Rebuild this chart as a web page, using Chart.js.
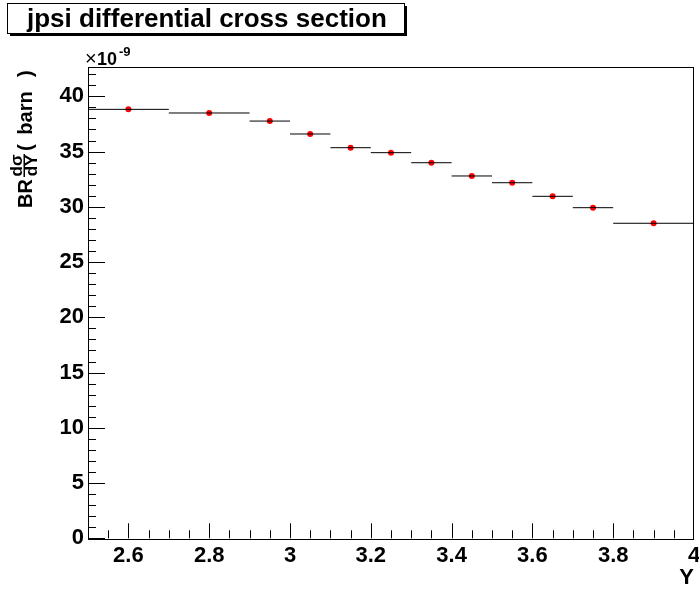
<!DOCTYPE html>
<html>
<head>
<meta charset="utf-8">
<title>jpsi differential cross section</title>
<script src="https://cdn.jsdelivr.net/npm/chart.js@4"></script>
<style>
  body { margin: 0; background: #ffffff; }
  canvas { display: block; }
</style>
</head>
<body>
<canvas id="myChart" width="699" height="594"></canvas>
<script>
// rapidity bins (centre, low edge, high edge) and BR*dsigma/dY in units of 1e-9 barn
const binCenter = [2.6, 2.8, 2.95, 3.05, 3.15, 3.25, 3.35, 3.45, 3.55, 3.65, 3.75, 3.9];
const binLow = [2.5, 2.7, 2.9, 3.0, 3.1, 3.2, 3.3, 3.4, 3.5, 3.6, 3.7, 3.8];
const binHigh = [2.7, 2.9, 3.0, 3.1, 3.2, 3.3, 3.4, 3.5, 3.6, 3.7, 3.8, 4.0];
const xsec = [38.82, 38.49, 37.76, 36.59, 35.35, 34.90, 33.99, 32.79, 32.18, 30.95, 29.92, 28.51];

const xTicks = [2.6, 2.8, 3, 3.2, 3.4, 3.6, 3.8, 4];
const yTicks = [0, 5, 10, 15, 20, 25, 30, 35, 40];

const FONT = "'Liberation Sans', Arial, sans-serif";

// ROOT style frame: box, inward ticks, error bars, titles
const rootFrame = {
  id: 'rootFrame',
  afterDatasetsDraw(chart) {
    const { ctx, chartArea: a, scales } = chart;
    const xs = scales.x, ys = scales.y;
    ctx.save();

    // horizontal bin-width bars
    ctx.strokeStyle = '#000';
    ctx.lineWidth = 1;
    for (let i = 0; i < xsec.length; i++) {
      const py = ys.getPixelForValue(xsec[i]);
      ctx.beginPath();
      ctx.moveTo(xs.getPixelForValue(binLow[i]), py);
      ctx.lineTo(xs.getPixelForValue(binHigh[i]), py);
      ctx.stroke();
    }

    // frame
    ctx.strokeRect(Math.round(a.left) + 0.5, Math.round(a.top) + 0.5,
      Math.round(a.right - a.left) - 1, Math.round(a.bottom - a.top));

    // y ticks
    ctx.beginPath();
    for (let v = 0; v <= 42; v++) {
      const py = Math.round(ys.getPixelForValue(v)) + 0.5;
      const len = v % 5 === 0 ? 17 : 8;
      ctx.moveTo(a.left, py);
      ctx.lineTo(a.left + len, py);
    }
    // x ticks
    for (let k = 1; k < 30; k++) {
      const v = 2.5 + k * 0.05;
      const px = Math.round(xs.getPixelForValue(v)) + 0.5;
      const len = (k - 2) % 4 === 0 ? 15 : 8;
      ctx.moveTo(px, a.bottom);
      ctx.lineTo(px, a.bottom - len);
    }
    ctx.stroke();
    ctx.restore();
  },
  afterDraw(chart) {
    const { ctx, chartArea: a } = chart;
    ctx.save();

    // title box with shadow
    ctx.fillStyle = '#000';
    ctx.fillRect(10, 6, 397, 30);
    ctx.fillStyle = '#fff';
    ctx.fillRect(7.5, 3.5, 397, 30);
    ctx.strokeStyle = '#000';
    ctx.lineWidth = 1;
    ctx.strokeRect(7.5, 3.5, 397, 30);
    ctx.fillStyle = '#000';
    ctx.font = 'bold 26px ' + FONT;
    ctx.textBaseline = 'alphabetic';
    ctx.textAlign = 'left';
    ctx.fillText('jpsi differential cross section', 27, 27);

    // exponent
    ctx.font = '20px ' + FONT;
    ctx.fillText('\u00d7', 85, 65);
    ctx.font = 'bold 18px ' + FONT;
    ctx.fillText('10', 97, 65);
    ctx.font = 'bold 13px ' + FONT;
    ctx.fillText('-9', 119, 56);

    // x title
    ctx.font = 'bold 22px ' + FONT;
    ctx.textAlign = 'right';
    ctx.fillText('Y', a.right, 584);

    // y title, rotated (u runs upward from screen y = 208)
    ctx.translate(32, 208);
    ctx.rotate(-Math.PI / 2);
    ctx.textAlign = 'left';
    ctx.font = 'bold 20px ' + FONT;
    ctx.fillText('BR', 0, 0);
    ctx.font = 'bold 17px ' + FONT;
    const wn = ctx.measureText('d\u03c3').width;
    const wd = ctx.measureText('dY').width;
    const fw = Math.max(wn, wd) + 1;
    const fx = 31;
    ctx.fillText('d\u03c3', fx + (fw - wn) / 2, -10);
    ctx.fillText('dY', fx + (fw - wd) / 2, 5);
    ctx.fillRect(fx, -8.5, fw, 1.5);
    ctx.font = 'bold 20px ' + FONT;
    ctx.fillText('(', 57, 0);
    const wb = ctx.measureText('barn').width;
    ctx.fillText('barn', 95 - wb / 2, 0);
    ctx.fillText(')', 131, 0);
    ctx.restore();
  }
};

const ctx = document.getElementById('myChart').getContext('2d');

new Chart(ctx, {
  type: 'scatter',
  data: {
    datasets: [{
      label: 'jpsi',
      data: binCenter.map((x, i) => ({ x: x, y: xsec[i] })),
      pointBackgroundColor: '#ff0000',
      pointBorderColor: '#ff0000',
      pointBorderWidth: 0,
      pointRadius: 3
    }]
  },
  options: {
    responsive: false,
    animation: false,
    layout: { padding: { top: 66.7, right: 5, left: 0, bottom: 0 } },
    plugins: {
      legend: { display: false },
      tooltip: { enabled: false }
    },
    scales: {
      x: {
        type: 'linear',
        min: 2.5,
        max: 4,
        grid: { display: false, drawTicks: false },
        border: { display: false },
        afterBuildTicks: s => { s.ticks = xTicks.map(v => ({ value: v })); },
        afterFit: s => { s.height = 55.7; s.paddingLeft = 0; s.paddingRight = 0; },
        ticks: {
          color: '#000',
          padding: 4,
          maxRotation: 0,
          autoSkip: false,
          callback: v => String(v),
          font: { family: FONT, size: 22, weight: 'bold' }
        }
      },
      y: {
        min: 0,
        max: 42.68,
        grid: { display: false, drawTicks: false },
        border: { display: false },
        afterBuildTicks: s => { s.ticks = yTicks.map(v => ({ value: v })); },
        afterFit: s => { s.width = 88; s.paddingTop = 0; s.paddingBottom = 0; },
        ticks: {
          color: '#000',
          padding: 4,
          autoSkip: false,
          font: { family: FONT, size: 22, weight: 'bold' }
        }
      }
    }
  },
  plugins: [rootFrame]
});
</script>
</body>
</html>
